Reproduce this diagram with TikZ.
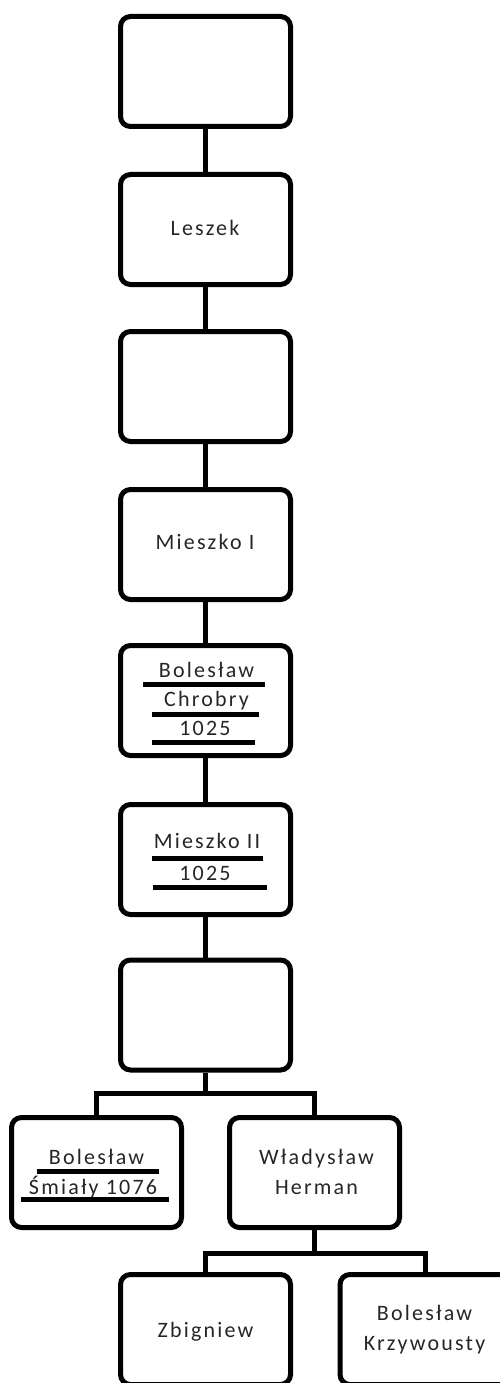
\documentclass[tikz,border=0pt]{standalone}
\usepackage{fontspec}
\newfontfamily\boxfont[LetterSpace=10]{Carlito}
\begin{document}
\begin{tikzpicture}[x=1pt,y=-1pt,
  box/.style={draw, line width=5pt, rounded corners=10pt, minimum width=170pt, minimum height=110pt, inner sep=0pt},
  conn/.style={line width=5pt},
  bar/.style={line width=5pt},
  txt/.style={anchor=base, inner sep=0pt, text=black!85, font=\boxfont\fontsize{22}{26}\selectfont}]
\useasboundingbox (0,0) rectangle (500,1383);
\clip (0,0) rectangle (500,1383);
% main column
\node[box] (b1) at (205.5,71.5) {};
\node[box] (b2) at (205.5,229.5) {};
\node[box] (b3) at (205.5,386.5) {};
\node[box] (b4) at (205.5,544.5) {};
\node[box] (b5) at (205.5,700.5) {};
\node[box] (b6) at (205.5,859.5) {};
\node[box] (b7) at (205.5,1015) {};
% children
\node[box] (c1) at (96.5,1172.5) {};
\node[box] (c2) at (314.5,1172.5) {};
\node[box] (d1) at (205.5,1329.5) {};
\node[box] (d2) at (425,1329.5) {};
% connectors
\draw[conn] (b1) -- (b2);
\draw[conn] (b2) -- (b3);
\draw[conn] (b3) -- (b4);
\draw[conn] (b4) -- (b5);
\draw[conn] (b5) -- (b6);
\draw[conn] (b6) -- (b7);
\coordinate (j1) at (205.5,1093);
\draw[conn] (b7.south) -- (j1);
\draw[conn] (c1.north) |- (j1) -| (c2.north);
\coordinate (j2) at (314.5,1253);
\draw[conn] (c2.south) -- (j2);
\draw[conn] (d1.north) |- (j2) -| (d2.north);
% texts
\node[txt] (t2) at (205,235) {Leszek};
\node[txt] (t4) at (205,549) {Mieszko I};
\node[txt] (t5a) at (206.5,677) {Bolesław};
\node[txt] (t5b) at (206.5,706.5) {Chrobry};
\node[txt] (t5c) at (205,735.5) {1025};
\node[txt] (t6a) at (207,848.5) {Mieszko II};
\node[txt] (t6b) at (205,880) {1025};
\node[txt] (tc1a) at (96.5,1164) {Bolesław};
\node[txt] (tc1b) at (93,1194) {Śmiały 1076};
\node[txt] (tc2a) at (316.5,1164) {Władysław};
\node[txt] (tc2b) at (316.5,1194) {Herman};
\node[txt] (td1) at (205.5,1337) {Zbigniew};
\node[txt] (td2a) at (424.5,1320) {Bolesław};
\node[txt] (td2b) at (424.5,1350) {Krzywousty};
% underline bars
\draw[bar] (143.3,684) -- (265,684);
\draw[bar] (151.7,714.3) -- (259,714.3);
\draw[bar] (151.7,742.7) -- (255,742.7);
\draw[bar] (151.7,858.7) -- (263.3,858.7);
\draw[bar] (153.3,887) -- (267.3,887);
\draw[bar] (36.7,1171.7) -- (159.3,1171.7);
\draw[bar] (21,1199.3) -- (169.3,1199.3);
\end{tikzpicture}
\end{document}
